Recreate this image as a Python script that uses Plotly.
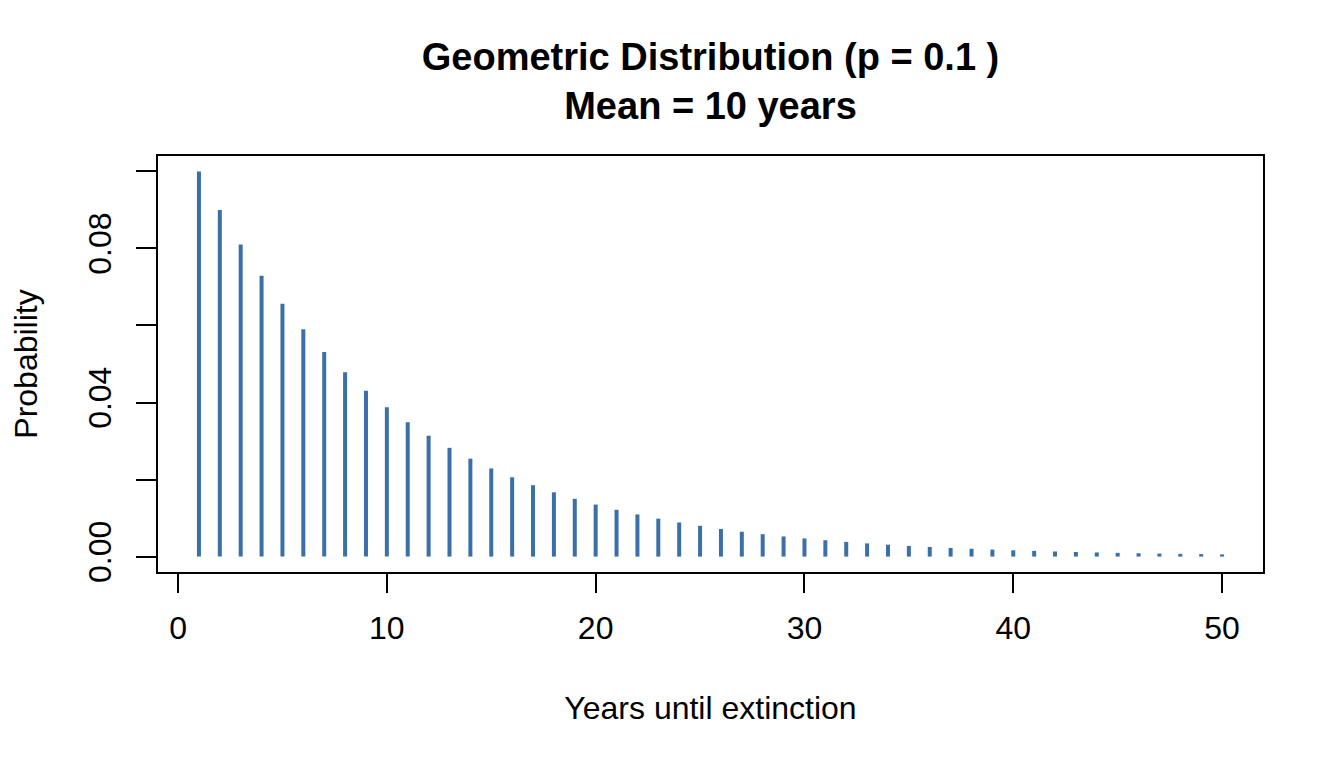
import plotly.graph_objects as go

# Years 1..50 and probability (p = 0.1)
years = list(range(1, 51))
prob = [0.1, 0.09, 0.081, 0.0729, 0.06561, 0.05905, 0.05314, 0.04783, 0.04305, 0.03874,
        0.03487, 0.03138, 0.02824, 0.02542, 0.02288, 0.02059, 0.01853, 0.01668, 0.01501, 0.01351,
        0.01216, 0.01094, 0.00985, 0.00886, 0.00798, 0.00718, 0.00646, 0.00581, 0.00523, 0.00471,
        0.00424, 0.00382, 0.00343, 0.00309, 0.00278, 0.0025, 0.00225, 0.00203, 0.00182, 0.00164,
        0.00148, 0.00133, 0.0012, 0.00108, 0.00097, 0.00087, 0.00079, 0.00071, 0.00064, 0.00057]

x_ticks = [0, 10, 20, 30, 40, 50]
y_ticks = [0, 0.02, 0.04, 0.06, 0.08, 0.10]
y_labels = ["0.00", "", "0.04", "", "0.08", ""]

# type="h" style: one vertical segment per year
seg_x, seg_y = [], []
for k, p in zip(years, prob):
    seg_x += [k, k, None]
    seg_y += [0, p, None]

font = "Liberation Sans"
fs = 32

fig = go.Figure(go.Scatter(
    x=seg_x, y=seg_y,
    mode='lines',
    line=dict(color='#3b6fa8', width=4),
    hoverinfo='skip',
    showlegend=False
))

fig.update_layout(
    width=1344, height=768,
    paper_bgcolor='white', plot_bgcolor='white',
    margin=dict(l=158, r=81, t=156, b=196),
    font=dict(family=font, size=fs, color='black'),
    title=dict(
        text="<b>Geometric Distribution (p = 0.1 )<br>Mean = 10 years</b>",
        x=0.5, xanchor='center', xref='paper',
        y=0.909, yanchor='middle', yref='container',
        font=dict(size=38, family=font, color='black')
    ),
    xaxis=dict(
        range=[-0.96, 51.96], tickvals=x_ticks,
        ticks='outside', ticklen=19, tickwidth=2, tickcolor='black',
        tickfont=dict(size=fs, family=font),
        showline=True, mirror=True, linecolor='black', linewidth=2,
        showgrid=False, zeroline=False,
        title=dict(text="Years until extinction", standoff=51, font=dict(size=fs, family=font)),
        ticklabelstandoff=8
    ),
    yaxis=dict(
        range=[-0.004, 0.104], tickvals=y_ticks, ticktext=y_labels,
        ticks='outside', ticklen=20, tickwidth=2, tickcolor='black',
        tickangle=-90, tickfont=dict(size=fs, family=font),
        showline=True, mirror=True, linecolor='black', linewidth=2,
        showgrid=False, zeroline=False,
        title=dict(text="Probability", standoff=35, font=dict(size=fs, family=font)),
        ticklabelstandoff=12
    )
)

fig.write_html("out.html", config={"displayModeBar": False},
               post_script="document.body.style.margin='0';")
